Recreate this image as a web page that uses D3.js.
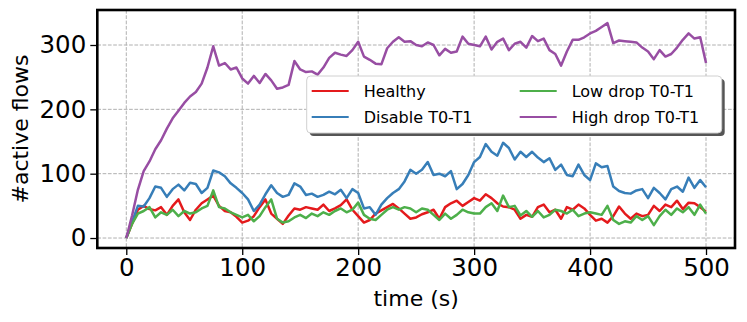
<!DOCTYPE html>
<html><head><meta charset="utf-8">
<script src="https://cdn.jsdelivr.net/npm/d3@7"></script>
<style>
html,body{margin:0;padding:0;background:#fff;}
svg{display:block;font-family:"DejaVu Sans",sans-serif;}
</style></head>
<body><svg id="chart" width="747" height="322"></svg>
<script>
// time axis (s), one sample every 5 s
const times = d3.range(0, 501, 5);
const healthy = [0,22,44,50,45,43,48,36,50,60,40,28,44,54,60,66,50,42,40,33,24,27,34,48,60,38,30,22,35,46,44,48,46,44,52,42,46,51,60,44,34,24,28,38,43,48,53,46,38,30,32,37,40,44,30,48,54,58,50,56,62,58,68,62,54,49,48,44,30,36,33,48,52,40,44,30,48,44,52,46,36,27,30,24,34,49,38,30,38,34,36,50,42,52,48,58,45,55,54,48,41];
const disable = [0,25,50,49,62,80,78,64,76,83,74,86,84,70,78,105,102,96,85,78,70,60,42,52,68,82,70,64,67,85,80,67,69,64,67,72,68,75,62,76,70,46,48,36,52,62,70,76,88,106,100,106,118,98,100,96,104,76,84,98,118,126,146,134,128,148,140,122,134,126,134,125,118,124,106,114,98,96,114,98,90,116,110,112,80,73,70,69,74,76,62,78,70,60,76,80,72,94,78,90,79];
const lowDrop = [0,22,38,42,48,32,40,36,44,34,42,38,40,46,50,74,48,46,40,36,32,36,26,34,48,60,30,24,26,32,36,31,38,34,40,36,42,46,40,44,55,36,30,28,36,44,48,44,48,46,40,46,44,36,28,38,30,36,44,40,38,38,48,54,42,66,48,50,35,42,33,42,32,36,44,42,38,44,34,38,40,38,36,50,28,22,26,24,34,28,34,20,34,44,36,46,40,48,36,52,38];
const highDrop = [0,35,75,104,119,138,152,170,186,198,210,220,227,240,265,298,268,272,262,265,248,240,252,241,255,245,232,234,238,275,262,258,259,254,265,280,288,285,283,292,305,282,277,271,270,295,305,312,305,306,300,298,304,300,284,294,288,290,313,302,300,298,313,293,305,310,292,302,305,296,314,306,310,292,286,268,290,308,308,312,318,322,328,334,303,307,306,305,304,296,290,278,292,282,286,296,308,318,310,312,272];
const seriesNames = ["Healthy","Disable T0-T1","Low drop T0-T1","High drop T0-T1"];
const seriesColors = ["#e41a1c","#377eb8","#4daf4a","#984ea3"];
const xTicks = [0,100,200,300,400,500];
const yTicks = [0,100,200,300];
const xLabel = "time (s)";
const yLabel = "#active flows";

const seriesData = [healthy, disable, lowDrop, highDrop];
const svg = d3.select("#chart");
const L = 97.3, R = 735, T = 10, B = 248;
const x = d3.scaleLinear().domain([-25, 525]).range([L, R]);
const y = d3.scaleLinear().domain([-15.5, 354.4]).range([B, T]);

// grid
const grid = svg.append("g");
grid.selectAll("line.gx").data(xTicks).join("line")
  .attr("x1", d => x(d)).attr("x2", d => x(d)).attr("y1", T).attr("y2", B)
  .attr("stroke", "#b0b0b0").attr("stroke-width", 1).attr("stroke-dasharray", "3.7,1.6");
grid.selectAll("line.gy").data(yTicks).join("line")
  .attr("y1", d => y(d)).attr("y2", d => y(d)).attr("x1", L).attr("x2", R)
  .attr("stroke", "#b0b0b0").attr("stroke-width", 1).attr("stroke-dasharray", "3.7,1.6");

// lines
const line = d3.line().x((d, i) => x(times[i])).y(d => y(d));
svg.append("clipPath").attr("id", "clip").append("rect")
  .attr("x", L).attr("y", T).attr("width", R - L).attr("height", B - T);
const lines = svg.append("g").attr("clip-path", "url(#clip)");
seriesData.forEach((s, k) => {
  lines.append("path").datum(s).attr("d", line)
    .attr("fill", "none").attr("stroke", seriesColors[k])
    .attr("stroke-width", 2.5).attr("stroke-linejoin", "round");
});

// axes
const xAxis = svg.append("g").attr("transform", `translate(0,${B})`)
  .call(d3.axisBottom(x).tickValues(xTicks).tickSize(7).tickPadding(4));
const yAxis = svg.append("g").attr("transform", `translate(${L},0)`)
  .call(d3.axisLeft(y).tickValues(yTicks).tickSize(7).tickPadding(4));
[xAxis, yAxis].forEach(a => {
  a.select(".domain").remove();
  a.selectAll("line").attr("stroke", "#000").attr("stroke-width", 1.3);
  a.selectAll("text").attr("font-size", 24.5).attr("fill", "#000")
    .attr("font-family", "DejaVu Sans");
});

// frame
svg.append("rect").attr("x", L).attr("y", T).attr("width", R - L).attr("height", B - T)
  .attr("fill", "none").attr("stroke", "#000").attr("stroke-width", 2.6);

// axis labels
svg.append("text").attr("x", (L + R) / 2).attr("y", 306).attr("text-anchor", "middle")
  .attr("font-size", 22).text(xLabel);
svg.append("text").attr("transform", `translate(28,${(T + B) / 2}) rotate(-90)`)
  .attr("text-anchor", "middle").attr("font-size", 22).text(yLabel);

// legend
const lg = svg.append("g");
const lx = 306.7, ly = 76, lw = 415, lh = 57;
lg.append("rect").attr("x", lx + 3).attr("y", ly + 3).attr("width", lw).attr("height", lh)
  .attr("rx", 4).attr("fill", "#555");
lg.append("rect").attr("x", lx).attr("y", ly).attr("width", lw).attr("height", lh)
  .attr("rx", 4).attr("fill", "#fff").attr("stroke", "#d0d0d0").attr("stroke-width", 1);
const colX = [lx + 5, lx + 213];
const rowY = [ly + 15, ly + 41];
seriesNames.forEach((n, k) => {
  const c = Math.floor(k / 2), r = k % 2;
  lg.append("line").attr("x1", colX[c]).attr("x2", colX[c] + 37)
    .attr("y1", rowY[r]).attr("y2", rowY[r])
    .attr("stroke", seriesColors[k]).attr("stroke-width", 2);
  lg.append("text").attr("x", colX[c] + 52).attr("y", rowY[r] + 6)
    .attr("font-size", 16).text(n);
});
</script></body></html>
